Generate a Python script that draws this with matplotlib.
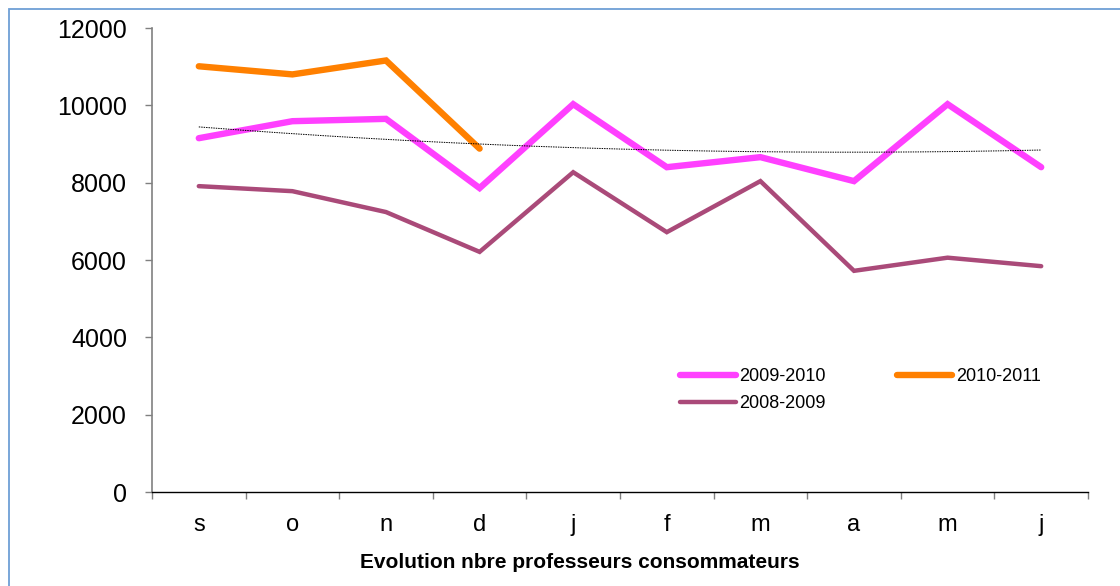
import matplotlib
matplotlib.use('Agg')
import numpy as np
import matplotlib.pyplot as plt
from matplotlib.patches import Rectangle

plt.rcParams['font.family'] = ['Liberation Sans', 'DejaVu Sans']

# ── data ─────────────────────────────────────────────────────────────────────
months = ["s", "o", "n", "d", "j", "f", "m", "a", "m", "j"]
y_2009_2010 = [9150, 9590, 9650, 7860, 10030, 8400, 8660, 8040, 10030, 8400]
y_2010_2011 = [11010, 10800, 11160, 8880]
y_2008_2009 = [7910, 7780, 7240, 6210, 8270, 6720, 8040, 5720, 6060, 5840]

C_PINK = "#FF40FF"
C_ORANGE = "#FF8000"
C_PLUM = "#AA4A79"

fig = plt.figure(figsize=(11.2, 5.86), dpi=100, facecolor="white")
ax = fig.add_axes([152 / 1120, 1 - 492 / 586, (1088 - 152) / 1120, (492 - 28) / 586])

x = np.arange(len(months))

l_pink, = ax.plot(x, y_2009_2010, color=C_PINK, lw=4.6, solid_capstyle="round",
                  solid_joinstyle="miter", label="2009-2010", zorder=3)
l_orange, = ax.plot(x[:len(y_2010_2011)], y_2010_2011, color=C_ORANGE, lw=4.6,
                    solid_capstyle="round", solid_joinstyle="miter",
                    label="2010-2011", zorder=4)
l_plum, = ax.plot(x, y_2008_2009, color=C_PLUM, lw=3.2, solid_capstyle="round",
                  solid_joinstyle="miter", label="2008-2009", zorder=2)

# polynomial trendline of the 2009-2010 series
coef = np.polyfit(x, y_2009_2010, 2)
xt = np.linspace(0, len(months) - 1, 200)
ax.plot(xt, np.polyval(coef, xt), color="black", lw=0.7, ls=(0, (1.5, 1)), zorder=5)

ax.set_xlim(-0.5, len(months) - 0.5)
ax.set_ylim(0, 12000)
ax.set_yticks(range(0, 12001, 2000))
ax.set_xticks(x)
ax.set_xticklabels(months)
ax.set_xticks(np.arange(-0.5, len(months), 1), minor=True)

for s in ("top", "right"):
    ax.spines[s].set_visible(False)
ax.spines["left"].set_color("#808080")
ax.spines["left"].set_linewidth(1.2)
ax.spines["bottom"].set_color("black")
ax.spines["bottom"].set_linewidth(1.0)

ax.tick_params(axis="y", direction="out", length=5, color="#808080", width=1,
               labelsize=18, pad=13)
ax.tick_params(axis="x", which="major", length=0, labelsize=17, pad=16)
ax.tick_params(axis="x", which="minor", direction="out", length=5, color="#808080",
               width=1)

fig.text(580 / 1120, 1 - 562 / 586,
         "Evolution nbre professeurs consommateurs",
         ha="center", va="center", fontsize=15, fontweight="bold")

# legend: row 1 = 2009-2010, 2010-2011 ; row 2 = 2008-2009
leg = fig.legend([l_pink, l_plum, l_orange], ["2009-2010", "2008-2009", "2010-2011"],
                 ncol=2, loc="upper left",
                 bbox_to_anchor=(680 / 1120, 1 - 368 / 586),
                 frameon=False, fontsize=13, handlelength=3.1, handletextpad=0.2,
                 columnspacing=3.9, labelspacing=0.56, borderpad=0, borderaxespad=0)

# light blue outer frame
fig.patches.append(Rectangle((9 / 1120, -0.05), 1.0, 1.05 - 9 / 586,
                             transform=fig.transFigure,
                             fill=False, edgecolor="#6E9FD6", lw=1.3))

fig.savefig("out.png", dpi=100)
